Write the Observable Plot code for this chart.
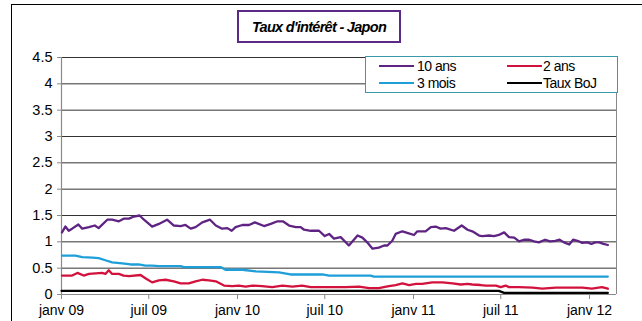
<!DOCTYPE html>
<html>
<head>
<meta charset="utf-8">
<script src="https://cdn.jsdelivr.net/npm/d3@7"></script>
<script src="https://cdn.jsdelivr.net/npm/@observablehq/plot@0.6"></script>
<style>
  body { margin: 0; background: #fff; }
  #wrap { position: relative; width: 642px; height: 321px; overflow: hidden; background: #fff; font-family: "Liberation Sans", Arial, sans-serif; }
  #frame { position: absolute; left: 11px; top: 4px; width: 800px; height: 500px; border: 1.5px solid #000; pointer-events: none; }
  #title { position: absolute; left: 237px; top: 10px; width: 164px; height: 33px; box-sizing: border-box; border: 2px solid #5b2a86; background: #fff;
           display: flex; align-items: center; justify-content: center; font-weight: bold; font-style: italic; font-size: 14.5px; letter-spacing: -0.7px; color: #000; }
  #legend { position: absolute; left: 365px; top: 56px; width: 253px; height: 37px; box-sizing: border-box; border: 1px solid #3a9aaa; background: #fff; }
  .sw { position: absolute; height: 2px; width: 35px; }
  .lt { position: absolute; font-size: 14px; letter-spacing: -0.5px; line-height: 16px; color: #000; white-space: nowrap; }
</style>
</head>
<body>
<div id="wrap">
  <div id="chart"></div>
  <div id="frame"></div>
  <div id="title"></div>
  <div id="legend"></div>
</div>
<script>
// ---- Data ----
const titleText = "Taux d'intérêt - Japon";
const seriesNames = ["10 ans", "2 ans", "3 mois", "Taux BoJ"];
const seriesColors = ["#5f2483", "#d2123c", "#1f9fd9", "#000000"];

const tickDates = ["2009-01-01","2009-07-01","2010-01-01","2010-07-01","2011-01-01","2011-07-01","2012-01-01"];
const tickLabels = ["janv 09","juil 09","janv 10","juil 10","janv 11","juil 11","janv 12"];
const yTicks = [0, 0.5, 1, 1.5, 2, 2.5, 3, 3.5, 4, 4.5];

const dates10 = ["2009-01-02","2009-01-09","2009-01-16","2009-01-23","2009-02-05","2009-02-13","2009-02-27","2009-03-11","2009-03-19","2009-04-06","2009-04-16","2009-04-30","2009-05-10","2009-05-21","2009-05-31","2009-06-12","2009-06-21","2009-07-08","2009-07-22","2009-08-08","2009-08-22","2009-09-05","2009-09-15","2009-09-26","2009-10-06","2009-10-20","2009-11-05","2009-11-17","2009-11-30","2009-12-11","2009-12-20","2009-12-28","2010-01-11","2010-01-25","2010-02-06","2010-02-25","2010-03-11","2010-03-25","2010-04-05","2010-04-18","2010-05-02","2010-05-12","2010-05-19","2010-06-02","2010-06-19","2010-07-01","2010-07-10","2010-07-20","2010-08-03","2010-08-20","2010-09-07","2010-09-17","2010-09-27","2010-10-08","2010-10-21","2010-11-01","2010-11-08","2010-11-18","2010-11-25","2010-12-09","2010-12-19","2011-01-02","2011-01-09","2011-01-26","2011-02-06","2011-02-16","2011-02-26","2011-03-09","2011-03-26","2011-04-11","2011-04-23","2011-05-03","2011-05-17","2011-05-24","2011-06-07","2011-06-17","2011-06-27","2011-07-08","2011-07-18","2011-07-29","2011-08-08","2011-08-18","2011-08-29","2011-09-08","2011-09-18","2011-10-01","2011-10-11","2011-10-22","2011-10-31","2011-11-09","2011-11-20","2011-11-28","2011-12-07","2011-12-17","2011-12-28","2012-01-05","2012-01-13","2012-01-21","2012-01-30","2012-02-08"];
const vals10 = [1.18,1.29,1.21,1.25,1.33,1.25,1.28,1.31,1.26,1.42,1.42,1.39,1.44,1.44,1.48,1.50,1.42,1.29,1.34,1.42,1.31,1.30,1.32,1.25,1.28,1.37,1.42,1.31,1.25,1.26,1.21,1.28,1.32,1.32,1.37,1.30,1.34,1.39,1.39,1.31,1.28,1.28,1.23,1.21,1.21,1.11,1.15,1.06,1.09,0.93,1.12,1.08,0.99,0.87,0.89,0.93,0.93,1.02,1.15,1.20,1.17,1.13,1.20,1.20,1.28,1.29,1.25,1.26,1.21,1.31,1.23,1.20,1.12,1.11,1.12,1.11,1.13,1.18,1.09,1.08,1.01,1.04,1.04,1.01,0.99,1.04,1.01,1.02,1.04,0.99,0.95,1.04,1.02,0.98,0.99,0.96,0.99,0.99,0.96,0.94];

const dates2 = ["2009-01-02","2009-01-23","2009-02-03","2009-02-16","2009-02-27","2009-03-13","2009-03-26","2009-04-02","2009-04-09","2009-04-16","2009-04-30","2009-05-10","2009-05-21","2009-06-14","2009-06-24","2009-07-08","2009-07-22","2009-08-05","2009-08-22","2009-09-05","2009-09-22","2009-10-06","2009-10-20","2009-11-03","2009-11-17","2009-12-04","2009-12-21","2010-01-04","2010-01-18","2010-02-01","2010-02-21","2010-03-14","2010-04-04","2010-04-25","2010-05-15","2010-06-02","2010-07-10","2010-08-13","2010-09-10","2010-10-01","2010-10-21","2010-11-11","2010-11-25","2010-12-09","2010-12-23","2011-01-06","2011-01-19","2011-02-09","2011-03-02","2011-03-23","2011-04-09","2011-04-23","2011-05-03","2011-05-20","2011-05-31","2011-06-21","2011-07-01","2011-07-11","2011-07-18","2011-08-08","2011-09-05","2011-09-25","2011-10-23","2011-11-20","2011-12-17","2012-01-06","2012-01-27","2012-02-08"];
const vals2 = [0.36,0.36,0.41,0.36,0.39,0.40,0.41,0.39,0.46,0.39,0.39,0.36,0.35,0.37,0.31,0.23,0.27,0.28,0.25,0.21,0.21,0.25,0.28,0.27,0.25,0.17,0.16,0.17,0.15,0.17,0.16,0.14,0.17,0.15,0.17,0.14,0.14,0.14,0.15,0.12,0.12,0.16,0.18,0.21,0.18,0.20,0.20,0.23,0.23,0.21,0.19,0.20,0.19,0.18,0.17,0.17,0.14,0.17,0.14,0.14,0.13,0.11,0.13,0.13,0.13,0.11,0.14,0.11];

const dates3m = ["2009-01-02","2009-01-30","2009-02-13","2009-03-06","2009-03-19","2009-04-02","2009-04-16","2009-05-07","2009-05-24","2009-06-10","2009-06-24","2009-07-08","2009-07-22","2009-08-12","2009-09-05","2009-09-12","2009-10-16","2009-11-27","2009-12-07","2010-01-11","2010-02-08","2010-03-28","2010-04-21","2010-06-26","2010-07-10","2010-08-03","2010-10-04","2010-10-11","2012-02-08"];
const vals3m = [0.74,0.74,0.71,0.70,0.69,0.65,0.61,0.59,0.57,0.57,0.55,0.55,0.54,0.54,0.54,0.52,0.52,0.52,0.47,0.47,0.44,0.42,0.38,0.38,0.36,0.36,0.36,0.34,0.34];

const datesBoJ = ["2009-01-01","2011-06-27","2011-07-08","2012-02-08"];
const valsBoJ = [0.07,0.07,0.03,0.03];

// ---- Build table ----
const parse = d3.utcParse("%Y-%m-%d");
const rows = [];
function add(name, ds, vs) { ds.forEach((d, i) => rows.push({ serie: name, date: parse(d), value: vs[i] })); }
add(seriesNames[3], datesBoJ, valsBoJ);
add(seriesNames[2], dates3m, vals3m);
add(seriesNames[1], dates2, vals2);
add(seriesNames[0], dates10, vals10);

const x0 = parse("2009-01-01"), x1 = parse("2012-02-26");
const ticks = tickDates.map(parse);
const labelOf = new Map(ticks.map((t, i) => [+t, tickLabels[i]]));

const chart = Plot.plot({
  width: 642,
  height: 321,
  marginLeft: 61,
  marginRight: 26,
  marginTop: 57,
  marginBottom: 27,
  style: { fontFamily: "'Liberation Sans', Arial, sans-serif", fontSize: "14px", color: "#000", background: "transparent" },
  x: { type: "utc", domain: [x0, x1] },
  y: { domain: [0, 4.5] },
  color: { domain: seriesNames, range: seriesColors },
  marks: [
    Plot.ruleY(yTicks.filter(d => d > 0), { stroke: "#333", strokeWidth: 1 }),
    Plot.ruleX([x1], { stroke: "#8a8a8a", strokeWidth: 1 }),
    Plot.ruleY([0], { stroke: "#8a8a8a", strokeWidth: 1.2 }),
    Plot.ruleX([x0], { stroke: "#8a8a8a", strokeWidth: 1.2 }),
    Plot.axisY({ ticks: yTicks, tickFormat: d => String(d), tickSize: 4, tickPadding: 5, stroke: "#8a8a8a", label: null, fontSize: 14.5 }),
    Plot.axisX({ ticks: ticks, tickFormat: d => labelOf.get(+d), tickSize: 5, tickPadding: 6, stroke: "#8a8a8a", label: null }),
    Plot.lineY(rows, { x: "date", y: "value", z: "serie", stroke: "serie", strokeWidth: 2.3, curve: "linear" })
  ]
});
document.getElementById("chart").appendChild(chart);

// ---- Title ----
document.getElementById("title").textContent = titleText;

// ---- Legend ----
const legend = document.getElementById("legend");
const pos = [
  { sx: 13, tx: 51, y: 9 },
  { sx: 141, tx: 177, y: 9 },
  { sx: 13, tx: 51, y: 26 },
  { sx: 141, tx: 177, y: 26 }
];
[0, 1, 2, 3].forEach((si, i) => {
  const p = pos[i];
  const sw = document.createElement("div");
  sw.className = "sw";
  sw.style.left = p.sx + "px";
  sw.style.top = (p.y - 1) + "px";
  sw.style.background = seriesColors[si];
  legend.appendChild(sw);
  const t = document.createElement("div");
  t.className = "lt";
  t.style.left = p.tx + "px";
  t.style.top = (p.y - 8) + "px";
  t.textContent = seriesNames[si];
  legend.appendChild(t);
});
</script>
</body>
</html>
